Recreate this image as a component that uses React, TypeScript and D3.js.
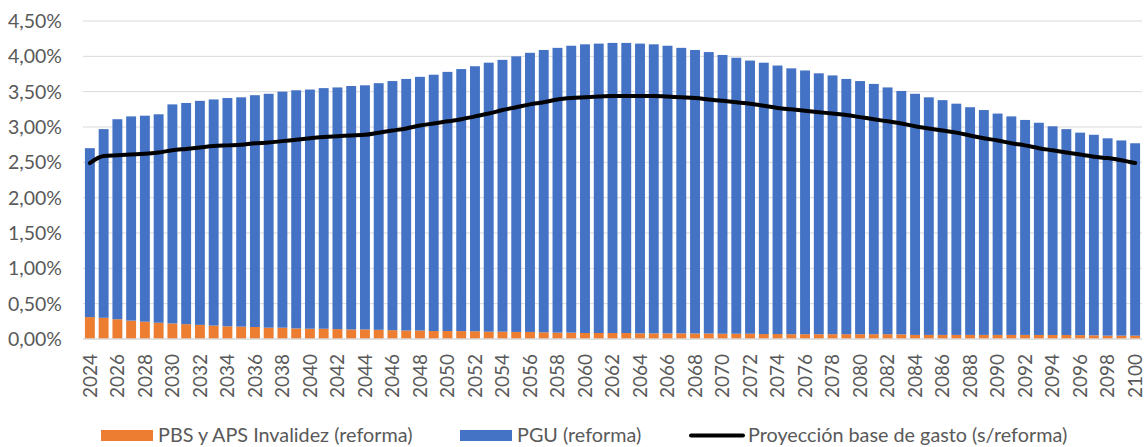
import React from "react";
import * as d3 from "d3";

const years: number[] = d3.range(2024, 2101);

// PBS y APS Invalidez (reforma), % del PIB
const pbs: number[] = [
  0.31, 0.30, 0.28, 0.26, 0.245, 0.23, 0.22, 0.21, 0.20, 0.19,
  0.18, 0.175, 0.17, 0.16, 0.16, 0.15, 0.145, 0.145, 0.14, 0.135,
  0.135, 0.13, 0.125, 0.12, 0.12, 0.113, 0.113, 0.112, 0.11, 0.104,
  0.104, 0.10, 0.10, 0.095, 0.09, 0.09, 0.085, 0.085, 0.085, 0.085,
  0.08, 0.08, 0.08, 0.08, 0.078, 0.078, 0.075, 0.075, 0.075, 0.07,
  0.07, 0.068, 0.068, 0.068, 0.068, 0.068, 0.068, 0.068, 0.068, 0.066,
  0.058, 0.058, 0.058, 0.058, 0.058, 0.058, 0.058, 0.058, 0.058, 0.057,
  0.057, 0.057, 0.055, 0.052, 0.048, 0.048, 0.047,
];

// PGU (reforma), % del PIB
const pgu: number[] = [
  2.39, 2.67, 2.83, 2.89, 2.915, 2.95, 3.10, 3.13, 3.17, 3.20,
  3.23, 3.245, 3.28, 3.31, 3.34, 3.37, 3.385, 3.405, 3.42, 3.445,
  3.455, 3.49, 3.525, 3.56, 3.59, 3.627, 3.667, 3.708, 3.75, 3.806,
  3.846, 3.90, 3.95, 3.995, 4.03, 4.06, 4.085, 4.095, 4.105, 4.105,
  4.10, 4.09, 4.07, 4.04, 4.012, 3.982, 3.945, 3.905, 3.865, 3.84,
  3.80, 3.762, 3.732, 3.692, 3.662, 3.612, 3.582, 3.542, 3.492, 3.444,
  3.412, 3.362, 3.322, 3.272, 3.222, 3.182, 3.132, 3.092, 3.042, 3.003,
  2.953, 2.913, 2.865, 2.838, 2.792, 2.762, 2.723,
];

// Proyección base de gasto (s/reforma), % del PIB
const base: number[] = [
  2.49, 2.59, 2.60, 2.61, 2.62, 2.64, 2.67, 2.69, 2.71, 2.73,
  2.74, 2.75, 2.77, 2.78, 2.80, 2.82, 2.84, 2.86, 2.87, 2.88,
  2.89, 2.92, 2.95, 2.98, 3.02, 3.05, 3.08, 3.11, 3.15, 3.19,
  3.24, 3.28, 3.32, 3.35, 3.39, 3.41, 3.42, 3.43, 3.44, 3.44,
  3.44, 3.44, 3.43, 3.42, 3.41, 3.39, 3.37, 3.35, 3.33, 3.30,
  3.27, 3.25, 3.23, 3.21, 3.19, 3.17, 3.14, 3.11, 3.08, 3.05,
  3.01, 2.98, 2.95, 2.92, 2.88, 2.84, 2.81, 2.77, 2.74, 2.70,
  2.67, 2.64, 2.61, 2.58, 2.56, 2.53, 2.49,
];

const yTicks: number[] = [0, 0.5, 1, 1.5, 2, 2.5, 3, 3.5, 4, 4.5];
const seriesNames: string[] = [
  "PBS y APS Invalidez (reforma)",
  "PGU (reforma)",
  "Proyección base de gasto (s/reforma)",
];

const W = 1146;
const H = 447;
const FONT = "Lato, 'Open Sans', sans-serif";
const ORANGE = "#ED7D31";
const BLUE = "#4472C4";
const TXT = "#595959";

export default function App() {
  const x = d3
    .scaleBand<number>()
    .domain(years)
    .range([83, 1142])
    .paddingInner(0.28)
    .paddingOuter(0.14);
  const y = d3.scaleLinear().domain([0, 4.5]).range([339, 21]);
  const fmt = (v: number) => d3.format(".2f")(v).replace(".", ",") + "%";

  const line = d3
    .line<number>()
    .x((_, i) => (x(years[i]) as number) + x.bandwidth() / 2)
    .y((d) => y(d))
    .curve(d3.curveMonotoneX);

  return (
    <svg
      width={W}
      height={H}
      style={{ position: "absolute", left: 0, top: 0, background: "#fff" }}
      fontFamily={FONT}
    >
      {yTicks.map((t) => (
        <g key={t}>
          {t > 0 && (
            <line x1={83} x2={1142} y1={y(t)} y2={y(t)} stroke="#d9d9d9" strokeWidth={1} />
          )}
          <text x={62} y={y(t)} dy="0.36em" textAnchor="end" fontSize={19.5} fill={TXT}>
            {fmt(t)}
          </text>
        </g>
      ))}
      {years.map((yr, i) => (
        <g key={yr}>
          <rect
            x={x(yr)}
            width={x.bandwidth()}
            y={y(pbs[i])}
            height={y(0) - y(pbs[i])}
            fill={ORANGE}
          />
          <rect
            x={x(yr)}
            width={x.bandwidth()}
            y={y(pbs[i] + pgu[i])}
            height={y(pbs[i]) - y(pbs[i] + pgu[i])}
            fill={BLUE}
          />
        </g>
      ))}
      <line x1={83} x2={1142} y1={y(0)} y2={y(0)} stroke="#d9d9d9" strokeWidth={1.5} />
      <path
        d={line(base) || ""}
        fill="none"
        stroke="#000"
        strokeWidth={4}
        strokeLinecap="round"
        strokeLinejoin="round"
      />
      {years
        .filter((yr) => yr % 2 === 0)
        .map((yr) => {
          const cx = (x(yr) as number) + x.bandwidth() / 2;
          return (
            <text
              key={yr}
              transform={`translate(${cx},354) rotate(-90)`}
              dy="0.36em"
              textAnchor="end"
              fontSize={19}
              fill={TXT}
            >
              {yr}
            </text>
          );
        })}
      <g fontSize={19.8} fill={TXT}>
        <rect x={101} y={430} width={52} height={11} fill={ORANGE} />
        <text x={158} y={441.5}>{seriesNames[0]}</text>
        <rect x={460} y={430} width={52} height={11} fill={BLUE} />
        <text x={517} y={441.5}>{seriesNames[1]}</text>
        <line x1={691} x2={743} y1={435.5} y2={435.5} stroke="#000" strokeWidth={4} strokeLinecap="round" />
        <text x={748} y={441.5}>{seriesNames[2]}</text>
      </g>
    </svg>
  );
}
